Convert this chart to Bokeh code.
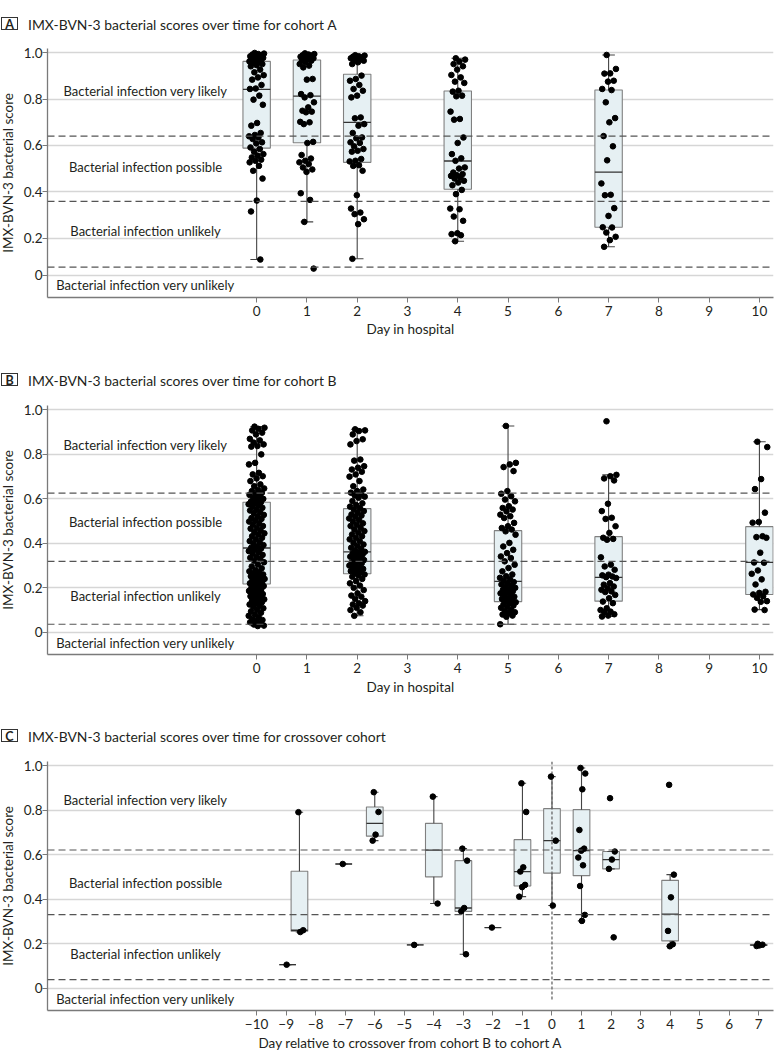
import numpy as np
from bokeh.plotting import figure
from bokeh.models import Label, FixedTicker, Range1d, CustomJSTickFormatter, Span, Title, Div
from bokeh.layouts import column, row
from bokeh.embed import file_html
from bokeh.resources import INLINE

# ---------------- data ----------------
Y_TICK_LABELS = ["0", "0.2", "0.4", "0.6", "0.8", "1.0"]
BAND_LABELS = ["Bacterial infection very likely", "Bacterial infection possible",
               "Bacterial infection unlikely", "Bacterial infection very unlikely"]

# Panel A: cohort A
A_days = [0, 1, 2, 4, 7]
A_q1 = [0.572, 0.596, 0.508, 0.387, 0.216]
A_median = [0.836, 0.806, 0.688, 0.514, 0.464]
A_q3 = [0.962, 0.968, 0.904, 0.829, 0.833]
A_low = [0.071, 0.240, 0.074, 0.153, 0.128]
A_high = [1.0, 0.998, 0.99, 0.976, 0.991]
A_thresholds = [0.626, 0.332, 0.037]
A_day0 = [1.0, 0.997, 0.995, 0.993, 0.99, 0.988, 0.985, 0.983, 0.98, 0.978, 0.975, 0.972, 0.968,
          0.965, 0.962, 0.958, 0.955, 0.95, 0.945, 0.94, 0.925, 0.913, 0.9, 0.89, 0.88, 0.856, 0.84,
          0.838, 0.808, 0.79, 0.767, 0.685, 0.673, 0.64, 0.631, 0.625, 0.62, 0.613, 0.598, 0.593,
          0.575, 0.568, 0.556, 0.545, 0.538, 0.53, 0.52, 0.515, 0.508, 0.492, 0.47, 0.435, 0.336,
          0.287, 0.071]
A_day1 = [0.998, 0.995, 0.993, 0.99, 0.988, 0.985, 0.983, 0.98, 0.978, 0.976, 0.973, 0.968, 0.965,
          0.958, 0.95, 0.943, 0.935, 0.883, 0.88, 0.815, 0.81, 0.8, 0.778, 0.755, 0.74, 0.736, 0.733,
          0.69, 0.688, 0.68, 0.6, 0.595, 0.541, 0.525, 0.515, 0.508, 0.5, 0.485, 0.476, 0.465, 0.369,
          0.339, 0.24, 0.03]
A_day2 = [0.99, 0.988, 0.985, 0.983, 0.98, 0.978, 0.976, 0.973, 0.968, 0.965, 0.958, 0.95, 0.898,
          0.883, 0.875, 0.856, 0.838, 0.83, 0.808, 0.8, 0.71, 0.706, 0.68, 0.673, 0.64, 0.62, 0.616,
          0.598, 0.595, 0.58, 0.568, 0.56, 0.556, 0.523, 0.515, 0.512, 0.495, 0.492, 0.47, 0.36, 0.3,
          0.282, 0.275, 0.252, 0.23, 0.074]
A_day4 = [0.976, 0.97, 0.961, 0.95, 0.94, 0.925, 0.901, 0.89, 0.871, 0.865, 0.83, 0.826, 0.808,
          0.805, 0.736, 0.703, 0.7, 0.62, 0.595, 0.545, 0.526, 0.515, 0.485, 0.48, 0.462, 0.455,
          0.45, 0.447, 0.44, 0.435, 0.425, 0.417, 0.405, 0.384, 0.365, 0.3, 0.297, 0.264, 0.245,
          0.189, 0.185, 0.18, 0.153]
A_day7 = [0.991, 0.928, 0.908, 0.907, 0.875, 0.871, 0.838, 0.833, 0.778, 0.707, 0.688, 0.626, 0.58,
          0.517, 0.413, 0.362, 0.36, 0.302, 0.267, 0.216, 0.215, 0.192, 0.173, 0.158, 0.128]

# Panel B: cohort B
B_days = [0, 2, 5, 7, 10]
B_q1 = [0.217, 0.263, 0.138, 0.140, 0.170]
B_median = [0.379, 0.362, 0.229, 0.247, 0.314]
B_q3 = [0.585, 0.556, 0.457, 0.430, 0.475]
B_low = [0.029, 0.074, 0.036, 0.071, 0.102]
B_high = [0.925, 0.913, 0.928, 0.708, 0.857]
B_thresholds = [0.626, 0.319, 0.036]
B_day0 = [0.925, 0.92, 0.915, 0.908, 0.898, 0.89, 0.87, 0.863, 0.853, 0.845, 0.838, 0.835, 0.8,
          0.762, 0.755, 0.717, 0.71, 0.702, 0.692, 0.68, 0.665, 0.657, 0.647, 0.64, 0.635, 0.627,
          0.62, 0.618, 0.612, 0.605, 0.6, 0.594, 0.588, 0.585, 0.58, 0.576, 0.57, 0.566, 0.56, 0.552,
          0.548, 0.54, 0.535, 0.528, 0.52, 0.514, 0.51, 0.503, 0.498, 0.49, 0.485, 0.478, 0.47,
          0.466, 0.458, 0.45, 0.445, 0.44, 0.432, 0.425, 0.418, 0.41, 0.405, 0.398, 0.392, 0.386,
          0.38, 0.377, 0.372, 0.365, 0.36, 0.354, 0.348, 0.34, 0.335, 0.33, 0.322, 0.315, 0.305,
          0.296, 0.288, 0.28, 0.274, 0.27, 0.265, 0.26, 0.256, 0.252, 0.248, 0.244, 0.24, 0.236,
          0.232, 0.228, 0.224, 0.22, 0.216, 0.212, 0.208, 0.204, 0.2, 0.195, 0.19, 0.186, 0.18,
          0.176, 0.172, 0.168, 0.162, 0.158, 0.152, 0.148, 0.144, 0.14, 0.135, 0.13, 0.125, 0.12,
          0.114, 0.108, 0.1, 0.094, 0.088, 0.08, 0.074, 0.068, 0.06, 0.055, 0.05, 0.045, 0.04,
          0.035, 0.03, 0.028]
B_day2 = [0.913, 0.908, 0.905, 0.89, 0.868, 0.86, 0.845, 0.777, 0.772, 0.747, 0.74, 0.732, 0.722,
          0.71, 0.7, 0.68, 0.657, 0.642, 0.635, 0.628, 0.62, 0.615, 0.61, 0.605, 0.59, 0.58, 0.572,
          0.565, 0.558, 0.552, 0.545, 0.538, 0.53, 0.525, 0.52, 0.512, 0.505, 0.498, 0.49, 0.484,
          0.478, 0.47, 0.462, 0.455, 0.448, 0.44, 0.432, 0.425, 0.418, 0.41, 0.402, 0.395, 0.388,
          0.38, 0.374, 0.368, 0.362, 0.358, 0.354, 0.35, 0.345, 0.34, 0.335, 0.33, 0.325, 0.32,
          0.314, 0.31, 0.305, 0.3, 0.295, 0.29, 0.285, 0.28, 0.275, 0.27, 0.265, 0.26, 0.255, 0.25,
          0.24, 0.23, 0.22, 0.21, 0.2, 0.19, 0.175, 0.165, 0.16, 0.15, 0.14, 0.13, 0.125, 0.12, 0.11,
          0.1, 0.09, 0.074]
B_day5 = [0.928, 0.762, 0.755, 0.743, 0.725, 0.635, 0.623, 0.612, 0.597, 0.589, 0.567, 0.559,
          0.552, 0.544, 0.529, 0.522, 0.514, 0.492, 0.477, 0.469, 0.462, 0.454, 0.439, 0.402, 0.386,
          0.371, 0.356, 0.341, 0.334, 0.319, 0.304, 0.289, 0.274, 0.26, 0.252, 0.245, 0.238, 0.232,
          0.226, 0.22, 0.215, 0.21, 0.205, 0.2, 0.195, 0.19, 0.185, 0.18, 0.175, 0.17, 0.165, 0.16,
          0.155, 0.15, 0.145, 0.14, 0.135, 0.13, 0.125, 0.12, 0.115, 0.11, 0.1, 0.095, 0.09, 0.085,
          0.08, 0.075, 0.07, 0.036]
B_day7 = [0.949, 0.708, 0.702, 0.692, 0.683, 0.578, 0.545, 0.515, 0.51, 0.477, 0.447, 0.425, 0.42,
          0.416, 0.337, 0.304, 0.296, 0.281, 0.259, 0.256, 0.251, 0.248, 0.244, 0.221, 0.214, 0.206,
          0.199, 0.191, 0.184, 0.181, 0.168, 0.153, 0.138, 0.131, 0.108, 0.1, 0.093, 0.09, 0.081,
          0.075, 0.071]
B_day10 = [0.857, 0.833, 0.689, 0.644, 0.538, 0.496, 0.493, 0.432, 0.428, 0.425, 0.358, 0.314,
           0.313, 0.278, 0.263, 0.238, 0.215, 0.182, 0.177, 0.17, 0.162, 0.155, 0.14, 0.137, 0.102,
           0.1]

# Panel C: crossover cohort (day relative to crossover, scores)
C_days = [-8.95, -8.55, -7.05, -6, -4.63, -4, -3, -2, -1, 0, 1, 2, 4, 7]
C_dm9a = [0.106]
C_dm9b = [0.792, 0.261, 0.253]
C_dm7 = [0.559]
C_dm6 = [0.882, 0.793, 0.691, 0.664]
C_dm5 = [0.195]
C_dm4 = [0.862, 0.381]
C_dm3 = [0.628, 0.574, 0.361, 0.346, 0.153]
C_dm2 = [0.273]
C_dm1 = [0.922, 0.793, 0.544, 0.525, 0.465, 0.455, 0.412]
C_d0 = [0.952, 0.664, 0.372]
C_d1 = [0.991, 0.966, 0.895, 0.712, 0.628, 0.619, 0.588, 0.553, 0.46, 0.33, 0.303]
C_d2 = [0.855, 0.615, 0.579, 0.537, 0.229]
C_d4 = [0.915, 0.511, 0.409, 0.258, 0.198, 0.189]
C_d7 = [0.2, 0.196, 0.193, 0.19]
C_thresholds = [0.622, 0.331, 0.039]

# ---------------- style ----------------
FONT = "Lato"
TXT = "#231f20"
GRID = "#d6d6d6"
AXIS = "#7a7a7a"
BOX_FILL = "#e6f0f3"
BOX_LINE = "#808080"
DASH = "#555555"
W = 783
YLAB_W = 16
FRAME_H = 249


def tukey(values):
    v = np.sort(np.asarray(values, float))
    q1, med, q3 = np.percentile(v, [25, 50, 75])
    iqr = q3 - q1
    lo = v[v >= q1 - 1.5 * iqr].min()
    hi = v[v <= q3 + 1.5 * iqr].max()
    return q1, med, q3, lo, hi


def offsets(n, half):
    return ((np.arange(n) * 0.6180339887 + 0.37) % 1.0 - 0.5) * 2.0 * half


def title_div(letter, text, h, center):
    box_top = center - 7.5
    txt_top = center - 9.5
    html = (
        f'<div style="position:relative;width:{W}px;height:{h}px;font-family:Lato;color:{TXT};">'
        f'<div style="position:absolute;left:1px;top:{box_top}px;width:17px;height:13px;'
        f'border:1.3px solid #333;font-weight:bold;font-size:12.5px;line-height:13px;'
        f'text-align:center;">{letter}</div>'
        f'<div style="position:absolute;left:28px;top:{txt_top}px;font-size:13.9px;'
        f'line-height:19px;white-space:nowrap;">{text}</div></div>')
    return Div(text=html, width=W, height=h, styles={"margin": "0", "padding": "0"})


def ylabel_div(fig_h, top):
    center_h = 2 * (top + FRAME_H / 2)
    html = (
        f'<div style="width:{YLAB_W}px;height:{center_h}px;display:flex;align-items:center;'
        f'justify-content:center;">'
        f'<span style="writing-mode:vertical-rl;transform:rotate(180deg);font-family:Lato;'
        f'font-size:13.5px;line-height:16px;color:{TXT};white-space:nowrap;">'
        f'IMX-BVN-3 bacterial score</span></div>')
    return Div(text=html, width=YLAB_W, height=fig_h, styles={"margin": "0", "padding": "0"})


def panel(xr, xticks, xlabel, xlabel_offset, xlabel_standoff, ytick_pos, thresholds,
          xs, q1, med, q3, lo, hi, groups, box_w, cap_w, jit, band_x, band_y, top, bottom,
          vline=None):
    p = figure(frame_width=726, frame_height=FRAME_H, x_range=Range1d(*xr),
               y_range=Range1d(-0.1, 1.02), output_backend="svg", toolbar_location=None,
               min_border_left=47 - YLAB_W, min_border_right=10, min_border_top=top,
               min_border_bottom=bottom)
    p.outline_line_color = None
    p.background_fill_color = "white"
    p.xgrid.visible = False
    p.ygrid.ticker = FixedTicker(ticks=ytick_pos)
    p.ygrid.grid_line_color = GRID
    p.ygrid.grid_line_width = 1.6

    yax = p.yaxis[0]
    yax.ticker = FixedTicker(ticks=ytick_pos)
    yax.formatter = CustomJSTickFormatter(args=dict(labs=Y_TICK_LABELS), code="return labs[index];")
    yax.major_label_text_font = FONT
    yax.major_label_text_font_size = "13.5px"
    yax.major_label_text_color = TXT
    yax.major_label_standoff = 0
    yax.major_tick_out = 5
    yax.major_tick_in = 0
    yax.minor_tick_out = 0
    yax.minor_tick_in = 0
    yax.axis_line_color = AXIS
    yax.major_tick_line_color = AXIS
    yax.axis_line_width = 1.3

    xax = p.xaxis[0]
    xax.ticker = FixedTicker(ticks=xticks)
    xax.major_label_text_font = FONT
    xax.major_label_text_font_size = "13.5px"
    xax.major_label_text_color = TXT
    xax.major_label_standoff = 3
    xax.major_tick_out = 5
    xax.major_tick_in = 0
    xax.minor_tick_out = 0
    xax.minor_tick_in = 0
    xax.axis_line_color = AXIS
    xax.major_tick_line_color = AXIS
    xax.axis_line_width = 1.3

    p.add_layout(Title(text=xlabel, align="center", offset=xlabel_offset, text_font=FONT,
                       text_font_size="13.5px", text_font_style="normal", text_color=TXT,
                       standoff=xlabel_standoff), "below")

    # boxes
    xs = np.asarray(xs, float)
    p.quad(left=xs - box_w / 2, right=xs + box_w / 2, bottom=q1, top=q3,
           fill_color=BOX_FILL, line_color=BOX_LINE, line_width=1.1)
    p.segment(x0=xs, x1=xs, y0=q3, y1=hi, line_color="#444444", line_width=1.1)
    p.segment(x0=xs, x1=xs, y0=q1, y1=lo, line_color="#444444", line_width=1.1)
    p.segment(x0=xs - cap_w / 2, x1=xs + cap_w / 2, y0=hi, y1=hi, line_color="#444444", line_width=1.1)
    p.segment(x0=xs - cap_w / 2, x1=xs + cap_w / 2, y0=lo, y1=lo, line_color="#444444", line_width=1.1)
    p.segment(x0=xs - box_w / 2, x1=xs + box_w / 2, y0=med, y1=med, line_color="#333333", line_width=1.3)

    # thresholds
    for t in thresholds:
        p.add_layout(Span(location=t, dimension="width", line_color=DASH, line_width=1.2,
                          line_dash="7 4"))
    if vline is not None:
        p.segment(x0=[vline], x1=[vline], y0=[-0.05], y1=[1.05], line_color="#666666",
                  line_width=1.3, line_dash="3 2")

    # points
    px, py = [], []
    for x, vals in zip(xs, groups):
        px.extend(list(x + offsets(len(vals), jit)))
        py.extend(vals)
    p.scatter(px, py, size=5.6, marker="circle", fill_color="black", line_color="black")

    # band labels
    for txt, y in zip(BAND_LABELS, band_y):
        p.add_layout(Label(x=band_x, y=y, text=txt, text_align="center", text_baseline="middle",
                           text_font=FONT, text_font_size="13px", text_color=TXT))
    fig_h = top + FRAME_H + bottom
    return row(ylabel_div(fig_h, top), p, spacing=0)


A_ytick_pos = [0.0, 0.1667, 0.375, 0.584, 0.791, 1.0]
std_ytick_pos = [0.0, 0.2, 0.4, 0.6, 0.8, 1.0]

dA = title_div("A", "IMX-BVN-3 bacterial scores over time for cohort A", 36, 24)
pA = panel((-4.16, 10.28), list(range(0, 11)), "Day in hospital", 97, 0, A_ytick_pos, A_thresholds,
           A_days, A_q1, A_median, A_q3, A_low, A_high,
           [A_day0, A_day1, A_day2, A_day4, A_day7], 0.545, 0.25, 0.15,
           -2.21, [0.827, 0.485, 0.2, -0.045], top=12, bottom=41)

dB = title_div("B", "IMX-BVN-3 bacterial scores over time for cohort B", 50, 42)
pB = panel((-4.16, 10.28), list(range(0, 11)), "Day in hospital", 97, 3, std_ytick_pos, B_thresholds,
           B_days, B_q1, B_median, B_q3, B_low, B_high,
           [B_day0, B_day2, B_day5, B_day7, B_day10], 0.545, 0.25, 0.16,
           -2.21, [0.842, 0.496, 0.162, -0.05], top=17, bottom=41)

C_groups = [C_dm9a, C_dm9b, C_dm7, C_dm6, C_dm5, C_dm4, C_dm3, C_dm2, C_dm1, C_d0, C_d1, C_d2,
            C_d4, C_d7]
C_stats = np.array([tukey(g) for g in C_groups])
dC = title_div("C", "IMX-BVN-3 bacterial scores over time for crossover cohort", 53, 40.7)
pC = panel((-17.08, 7.5), list(range(-10, 8)), "Day relative to crossover from cohort B to cohort A",
           97, 3, std_ytick_pos, C_thresholds,
           C_days, C_stats[:, 0], C_stats[:, 1], C_stats[:, 2], C_stats[:, 3], C_stats[:, 4],
           C_groups, 0.565, 0.25, 0.13,
           -13.76, [0.849, 0.474, 0.156, -0.048], top=12, bottom=46, vline=0)

layout = column(dA, pA, dB, pB, dC, pC, spacing=0)
open("out.html", "w").write(file_html(layout, INLINE))
